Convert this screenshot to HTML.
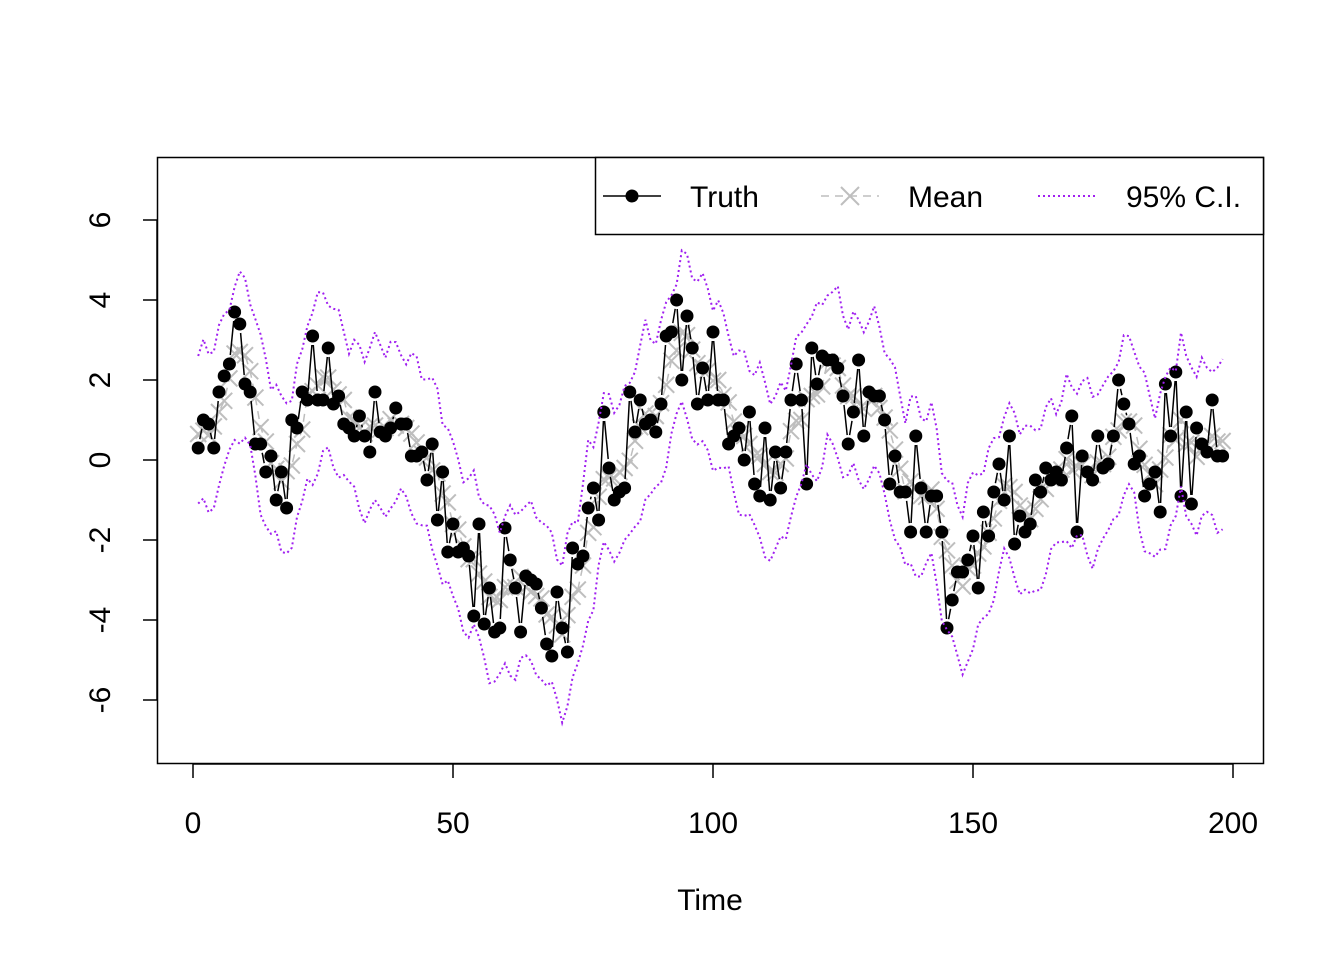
<!DOCTYPE html>
<html><head><meta charset="utf-8"><style>
html,body{margin:0;padding:0;background:#fff}
svg text{font-family:"Liberation Sans",Arial,sans-serif;font-size:30px;fill:#000}
</style></head><body>
<svg id="s" width="1344" height="960" viewBox="0 0 1344 960" xmlns="http://www.w3.org/2000/svg">
<rect x="0" y="0" width="1344" height="960" fill="#fff"/>
<g id="data"></g>
<rect x="157.5" y="157.5" width="1106" height="606" fill="none" stroke="#000" stroke-width="1.5"/>
<g stroke="#000" stroke-width="1.5">
<line x1="193" y1="764" x2="1233" y2="764"/>
<line x1="193" y1="764" x2="193" y2="778"/><line x1="453" y1="764" x2="453" y2="778"/>
<line x1="713" y1="764" x2="713" y2="778"/><line x1="973" y1="764" x2="973" y2="778"/>
<line x1="1233" y1="764" x2="1233" y2="778"/>
<line x1="157" y1="220" x2="157" y2="700"/>
<line x1="157" y1="220" x2="143" y2="220"/><line x1="157" y1="300" x2="143" y2="300"/>
<line x1="157" y1="380" x2="143" y2="380"/><line x1="157" y1="460" x2="143" y2="460"/>
<line x1="157" y1="540" x2="143" y2="540"/><line x1="157" y1="620" x2="143" y2="620"/>
<line x1="157" y1="700" x2="143" y2="700"/>
</g>
<g text-anchor="middle">
<text x="193" y="833">0</text><text x="453" y="833">50</text><text x="713" y="833">100</text>
<text x="973" y="833">150</text><text x="1233" y="833">200</text>
<text x="710" y="910">Time</text>
<text transform="translate(110,220) rotate(-90)">6</text>
<text transform="translate(110,300) rotate(-90)">4</text>
<text transform="translate(110,380) rotate(-90)">2</text>
<text transform="translate(110,460) rotate(-90)">0</text>
<text transform="translate(110,540) rotate(-90)">-2</text>
<text transform="translate(110,620) rotate(-90)">-4</text>
<text transform="translate(110,700) rotate(-90)">-6</text>
</g>
<rect x="595.5" y="157.5" width="668" height="77" fill="#fff" stroke="#000" stroke-width="1.5"/>
<line x1="603" y1="196" x2="661" y2="196" stroke="#000" stroke-width="1.5"/>
<circle cx="632" cy="196" r="6.5" fill="#000"/>
<text x="690" y="207">Truth</text>
<line x1="821" y1="196" x2="879" y2="196" stroke="#bebebe" stroke-width="1.5" stroke-dasharray="8,6"/>
<path d="M841 187L859 205M841 205L859 187" stroke="#bebebe" stroke-width="2"/>
<text x="908" y="207">Mean</text>
<line x1="1038" y1="196" x2="1098" y2="196" stroke="#a020f0" stroke-width="2" stroke-dasharray="2,3"/>
<text x="1126" y="207">95% C.I.</text>
</svg>
<script>
var T=[0.3,1.0,0.9,0.3,1.7,2.1,2.4,3.7,3.4,1.9,1.7,0.4,0.4,-0.3,0.1,-1.0,-0.3,-1.2,1.0,0.8,1.7,1.5,3.1,1.5,1.5,2.8,1.4,1.6,0.9,0.8,0.6,1.1,0.6,0.2,1.7,0.7,0.6,0.8,1.3,0.9,0.9,0.1,0.1,0.2,-0.5,0.4,-1.5,-0.3,-2.3,-1.6,-2.3,-2.2,-2.4,-3.9,-1.6,-4.1,-3.2,-4.3,-4.2,-1.7,-2.5,-3.2,-4.3,-2.9,-3.0,-3.1,-3.7,-4.6,-4.9,-3.3,-4.2,-4.8,-2.2,-2.6,-2.4,-1.2,-0.7,-1.5,1.2,-0.2,-1.0,-0.8,-0.7,1.7,0.7,1.5,0.9,1.0,0.7,1.4,3.1,3.2,4.0,2.0,3.6,2.8,1.4,2.3,1.5,3.2,1.5,1.5,0.4,0.6,0.8,0,1.2,-0.6,-0.9,0.8,-1.0,0.2,-0.7,0.2,1.5,2.4,1.5,-0.6,2.8,1.9,2.6,2.5,2.5,2.3,1.6,0.4,1.2,2.5,0.6,1.7,1.6,1.6,1.0,-0.6,0.1,-0.8,-0.8,-1.8,0.6,-0.7,-1.8,-0.9,-0.9,-1.8,-4.2,-3.5,-2.8,-2.8,-2.5,-1.9,-3.2,-1.3,-1.9,-0.8,-0.1,-1.0,0.6,-2.1,-1.4,-1.8,-1.6,-0.5,-0.8,-0.2,-0.5,-0.3,-0.5,0.3,1.1,-1.8,0.1,-0.3,-0.5,0.6,-0.2,-0.1,0.6,2.0,1.4,0.9,-0.1,0.1,-0.9,-0.6,-0.3,-1.3,1.9,0.6,2.2,-0.9,1.2,-1.1,0.8,0.4,0.2,1.5,0.1,0.1];
var n=T.length,M=[];
for(var i=0;i<n;i++){var s=0,c=0;for(var j=i-3;j<=i+1;j++){if(j>=0&&j<n){s+=T[j];c++;}}M.push(s/c);}
function X(i){return 193+5.2*(i+1);}function Y(v){return 460-40*v;}
function path(a){return a.map(function(v,i){return (i?'L':'M')+X(i).toFixed(1)+' '+Y(v).toFixed(1);}).join('');}
var U=M.map(function(v,i){return v+1.95+0.25*Math.sin(i*1.7)+0.15*Math.sin(i*0.6);});
var L=M.map(function(v,i){return v-1.95+0.25*Math.sin(i*1.3+1)+0.15*Math.sin(i*0.5);});
var h='';
h+='<path d="'+path(M)+'" fill="none" stroke="#bebebe" stroke-width="1.5" stroke-dasharray="8,6"/>';
M.forEach(function(v,i){var x=X(i),y=Y(v),d=8;h+='<path d="M'+(x-d)+' '+(y-d)+'L'+(x+d)+' '+(y+d)+'M'+(x-d)+' '+(y+d)+'L'+(x+d)+' '+(y-d)+'" stroke="#bebebe" stroke-width="2"/>';});
var g=9,lp='';
for(var i=0;i<n-1;i++){var x1=X(i),y1=Y(T[i]),x2=X(i+1),y2=Y(T[i+1]);var dx=x2-x1,dy=y2-y1,l=Math.sqrt(dx*dx+dy*dy);if(l>2*g){var ux=dx/l,uy=dy/l;lp+='M'+(x1+ux*g).toFixed(1)+' '+(y1+uy*g).toFixed(1)+'L'+(x2-ux*g).toFixed(1)+' '+(y2-uy*g).toFixed(1);}}
h+='<path d="'+lp+'" fill="none" stroke="#000" stroke-width="1.5"/>';
T.forEach(function(v,i){h+='<circle cx="'+X(i)+'" cy="'+Y(v)+'" r="6.5" fill="#000"/>';});
h+='<path d="'+path(U)+'" fill="none" stroke="#a020f0" stroke-width="2" stroke-dasharray="2,3"/>';
h+='<path d="'+path(L)+'" fill="none" stroke="#a020f0" stroke-width="2" stroke-dasharray="2,3"/>';
document.getElementById('data').innerHTML=h;
</script>
</body></html>
